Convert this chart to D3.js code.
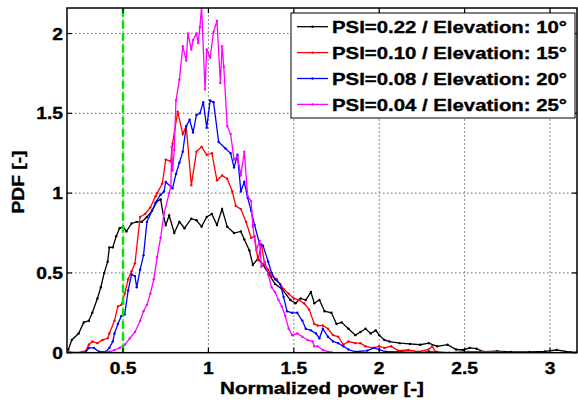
<!DOCTYPE html>
<html>
<head>
<meta charset="utf-8">
<script src="https://cdn.jsdelivr.net/npm/d3@7"></script>
<style>
    body { margin: 0; background: #fff; }
    text { font-family: "Liberation Sans", Arial, sans-serif; font-weight: bold; fill: #000; stroke: #000; stroke-width: 0.35px; }
</style>
</head>
<body>
<div id="chart"></div>
<script>
// PDF of normalized power, one series per elevation
const psi22 = [[0.18,0.02],[0.20,0.08],[0.24,0.12],[0.27,0.19],[0.30,0.20],[0.32,0.25],[0.35,0.34],[0.37,0.41],[0.39,0.50],[0.41,0.57],[0.42,0.66],[0.44,0.66],[0.46,0.73],[0.48,0.78],[0.50,0.79],[0.52,0.76],[0.55,0.81],[0.58,0.82],[0.61,0.82],[0.64,0.85],[0.67,0.89],[0.70,0.95],[0.72,0.96],[0.74,0.84],[0.75,0.80],[0.77,0.86],[0.80,0.75],[0.83,0.82],[0.86,0.78],[0.90,0.84],[0.93,0.83],[0.96,0.79],[0.99,0.85],[1.02,0.87],[1.05,0.80],[1.08,0.90],[1.11,0.79],[1.15,0.75],[1.19,0.76],[1.21,0.71],[1.24,0.64],[1.26,0.55],[1.29,0.59],[1.32,0.55],[1.35,0.50],[1.39,0.43],[1.43,0.40],[1.48,0.33],[1.51,0.31],[1.54,0.34],[1.57,0.33],[1.60,0.38],[1.62,0.31],[1.65,0.33],[1.68,0.26],[1.72,0.25],[1.75,0.18],[1.78,0.19],[1.82,0.15],[1.86,0.11],[1.89,0.13],[1.92,0.15],[1.95,0.12],[1.98,0.14],[2.00,0.11],[2.03,0.08],[2.06,0.07],[2.12,0.06],[2.18,0.055],[2.24,0.05],[2.29,0.06],[2.34,0.04],[2.40,0.05],[2.45,0.02],[2.49,0.017],[2.53,0.03],[2.57,0.025],[2.61,0.006],[2.69,0.01],[2.77,0.005],[2.88,0.005],[2.97,0.008],[3.04,0.017],[3.12,0.003],[3.16,0.003]];

const psi10 = [[0.18,0.006],[0.22,0.0],[0.26,0.005],[0.28,0.01],[0.30,0.05],[0.32,0.07],[0.35,0.06],[0.38,0.08],[0.41,0.09],[0.42,0.12],[0.45,0.20],[0.47,0.29],[0.49,0.30],[0.51,0.37],[0.53,0.46],[0.55,0.51],[0.57,0.56],[0.60,0.85],[0.63,0.87],[0.66,0.91],[0.69,0.98],[0.70,1.00],[0.73,1.06],[0.75,1.21],[0.78,1.20],[0.79,1.31],[0.82,1.51],[0.85,1.37],[0.87,1.42],[0.90,1.05],[0.93,1.26],[0.96,1.29],[0.99,1.24],[1.02,1.25],[1.05,1.08],[1.08,1.11],[1.11,1.09],[1.14,1.01],[1.16,0.92],[1.19,0.90],[1.22,0.82],[1.25,0.72],[1.27,0.73],[1.29,0.58],[1.31,0.68],[1.33,0.55],[1.35,0.52],[1.37,0.48],[1.40,0.46],[1.42,0.43],[1.44,0.40],[1.47,0.37],[1.50,0.34],[1.53,0.33],[1.56,0.31],[1.59,0.27],[1.62,0.18],[1.64,0.17],[1.67,0.17],[1.70,0.15],[1.73,0.11],[1.76,0.10],[1.79,0.05],[1.82,0.07],[1.86,0.06],[1.89,0.06],[1.92,0.04],[1.96,0.03],[2.00,0.04],[2.03,0.03],[2.07,0.04],[2.11,0.013],[2.17,0.017],[2.23,0.006],[2.29,0.02],[2.31,0.04],[2.33,0.006],[2.41,0.0],[2.52,0.006],[2.60,0.006],[2.68,0.006],[2.72,0.003]];

const psi08 = [[0.28,0.0],[0.30,0.03],[0.33,0.03],[0.36,0.006],[0.40,0.006],[0.42,0.03],[0.44,0.07],[0.45,0.12],[0.47,0.18],[0.49,0.23],[0.51,0.24],[0.53,0.39],[0.55,0.49],[0.57,0.48],[0.58,0.41],[0.60,0.52],[0.62,0.61],[0.64,0.82],[0.67,0.89],[0.69,0.94],[0.72,0.99],[0.74,1.01],[0.75,1.07],[0.79,1.03],[0.81,1.12],[0.83,1.19],[0.85,1.26],[0.87,1.42],[0.89,1.46],[0.91,1.38],[0.93,1.49],[0.95,1.50],[0.97,1.57],[0.99,1.41],[1.01,1.58],[1.03,1.57],[1.06,1.32],[1.10,1.28],[1.13,1.25],[1.15,1.16],[1.17,1.24],[1.19,1.01],[1.21,1.07],[1.23,0.97],[1.25,0.89],[1.27,0.80],[1.30,0.68],[1.32,0.67],[1.35,0.57],[1.37,0.50],[1.39,0.46],[1.42,0.43],[1.44,0.35],[1.46,0.26],[1.49,0.25],[1.52,0.25],[1.55,0.20],[1.57,0.15],[1.60,0.14],[1.63,0.12],[1.65,0.09],[1.67,0.15],[1.70,0.10],[1.73,0.07],[1.76,0.06],[1.79,0.04],[1.82,0.02],[1.86,0.006],[1.93,0.013],[1.97,0.03],[2.00,0.02],[2.04,0.006],[2.13,0.005],[2.24,0.0],[2.29,0.006],[2.34,0.003]];

const psi04 = [[0.38,0.0],[0.42,0.006],[0.45,0.017],[0.48,0.03],[0.51,0.05],[0.54,0.09],[0.57,0.13],[0.60,0.20],[0.62,0.26],[0.64,0.30],[0.66,0.37],[0.68,0.46],[0.70,0.60],[0.72,0.72],[0.74,0.87],[0.77,1.00],[0.78,1.04],[0.785,1.29],[0.79,1.14],[0.80,1.27],[0.81,1.58],[0.83,1.71],[0.85,1.92],[0.87,1.83],[0.88,2.00],[0.90,1.90],[0.91,1.96],[0.93,2.00],[0.94,1.94],[0.95,2.04],[0.96,2.17],[0.98,1.65],[0.99,1.90],[1.01,1.85],[1.03,2.01],[1.05,2.08],[1.07,1.69],[1.08,1.92],[1.09,1.79],[1.11,1.42],[1.13,1.37],[1.15,1.21],[1.17,1.23],[1.19,1.11],[1.21,1.26],[1.23,0.98],[1.25,0.95],[1.26,0.79],[1.28,0.64],[1.30,0.70],[1.31,0.54],[1.33,0.57],[1.35,0.49],[1.37,0.41],[1.39,0.38],[1.41,0.33],[1.43,0.29],[1.45,0.23],[1.47,0.15],[1.49,0.11],[1.52,0.12],[1.55,0.10],[1.58,0.08],[1.61,0.07],[1.62,0.04],[1.64,0.04],[1.67,0.017],[1.70,0.006],[1.72,0.003]];

const seriesNames = ["PSI=0.22 / Elevation: 10°", "PSI=0.10 / Elevation: 15°", "PSI=0.08 / Elevation: 20°", "PSI=0.04 / Elevation: 25°"];
const seriesColors = ["#000000", "#ff0000", "#0000ff", "#ff00ff"];
const xTicks = [0.5, 1, 1.5, 2, 2.5, 3];
const yTicks = [0, 0.5, 1, 1.5, 2];
const threshold = 0.5;

let width = 578, height = 403;
let margin = {top: 8, right: 1, bottom: 50.3, left: 67};

var svg = d3.select("#chart")
    .append("svg")
    .attr("width", width)
    .attr("height", height);

var x = d3.scaleLinear().domain([0.172, 3.158]).range([margin.left, width - margin.right]);
var y = d3.scaleLinear().domain([0, 2.16]).range([height - margin.bottom, margin.top]);

let x0 = x.range()[0], x1 = x.range()[1], y0 = y.range()[0], y1 = y.range()[1];

// the picture is a bit wider than tall, stretch glyphs to match
function stretch(sel, k) {
    sel.each(function () {
        let w = this.getComputedTextLength();
        d3.select(this).attr("textLength", w * k).attr("lengthAdjust", "spacingAndGlyphs");
    });
}

svg.append("clipPath").attr("id", "plotclip")
    .append("rect")
    .attr("x", x0).attr("y", y1)
    .attr("width", x1 - x0).attr("height", y0 - y1);

// grid
var grid = svg.append("g").attr("class", "grid")
    .attr("stroke", "#666").attr("stroke-width", 1).attr("stroke-dasharray", "1.5,2.5");
grid.selectAll(".gx").data(xTicks).enter().append("line")
    .attr("x1", d => x(d)).attr("x2", d => x(d))
    .attr("y1", y0).attr("y2", y1);
grid.selectAll(".gy").data(yTicks.filter(d => d > 0)).enter().append("line")
    .attr("x1", x0).attr("x2", x1)
    .attr("y1", d => y(d)).attr("y2", d => y(d));

// curves
var line = d3.line().x(d => x(d[0])).y(d => y(d[1]));
var plot = svg.append("g").attr("clip-path", "url(#plotclip)");
[psi22, psi10, psi08, psi04].forEach(function (data, i) {
    plot.append("path")
        .datum(data)
        .attr("d", line)
        .attr("fill", "none")
        .attr("stroke", seriesColors[i])
        .attr("stroke-width", 1.3);
    plot.append("g").selectAll("circle")
        .data(data).enter()
        .append("circle")
        .attr("cx", d => x(d[0]))
        .attr("cy", d => y(d[1]))
        .attr("r", 1.2)
        .attr("fill", seriesColors[i]);
});

// green threshold line
svg.append("line")
    .attr("x1", x(threshold)).attr("x2", x(threshold))
    .attr("y1", y0).attr("y2", y1)
    .attr("stroke", "#00e600")
    .attr("stroke-width", 2.5)
    .attr("stroke-dasharray", "8,4");

// frame and inward ticks
svg.append("rect")
    .attr("x", x0).attr("y", y1)
    .attr("width", x1 - x0).attr("height", y0 - y1)
    .attr("fill", "none").attr("stroke", "#000").attr("stroke-width", 1.5);

var ticks = svg.append("g").attr("stroke", "#000").attr("stroke-width", 1.2);
xTicks.forEach(function (t) {
    ticks.append("line").attr("x1", x(t)).attr("x2", x(t)).attr("y1", y0).attr("y2", y0 - 5);
    ticks.append("line").attr("x1", x(t)).attr("x2", x(t)).attr("y1", y1).attr("y2", y1 + 5);
});
yTicks.forEach(function (t) {
    ticks.append("line").attr("x1", x0).attr("x2", x0 + 5).attr("y1", y(t)).attr("y2", y(t));
    ticks.append("line").attr("x1", x1).attr("x2", x1 - 5).attr("y1", y(t)).attr("y2", y(t));
});

// tick labels
var fmt = d3.format("");
svg.append("g").selectAll("text")
    .data(xTicks).enter().append("text")
    .attr("x", d => x(d))
    .attr("y", y0 + 21)
    .attr("text-anchor", "middle")
    .style("font-size", "16px")
    .text(d => fmt(d))
    .call(stretch, 1.2);

svg.append("g").selectAll("text")
    .data(yTicks).enter().append("text")
    .attr("x", x0 - 4)
    .attr("y", d => y(d) + 6)
    .attr("text-anchor", "end")
    .style("font-size", "16px")
    .text(d => fmt(d))
    .call(stretch, 1.2);

// axis titles
svg.append("text")
    .attr("x", (x0 + x1) / 2)
    .attr("y", 394)
    .attr("text-anchor", "middle")
    .style("font-size", "16.5px")
    .attr("textLength", 204)
    .attr("lengthAdjust", "spacingAndGlyphs")
    .text("Normalized power [-]");

svg.append("text")
    .attr("transform", "translate(24," + 182 + ") rotate(-90)")
    .attr("text-anchor", "middle")
    .style("font-size", "16px")
    .attr("textLength", 63)
    .attr("lengthAdjust", "spacingAndGlyphs")
    .text("PDF [-]");

// legend
var legend = svg.append("g").attr("class", "legend");
legend.append("rect")
    .attr("x", 291).attr("y", 13)
    .attr("width", 284).attr("height", 105)
    .attr("fill", "#fff").attr("stroke", "#000").attr("stroke-width", 1);

seriesNames.forEach(function (name, i) {
    let ly = 26.7 + i * 25.9;
    legend.append("line")
        .attr("x1", 297).attr("x2", 328)
        .attr("y1", ly).attr("y2", ly)
        .attr("stroke", seriesColors[i]).attr("stroke-width", 1.3);
    legend.append("circle")
        .attr("cx", 312.5).attr("cy", ly).attr("r", 1.2)
        .attr("fill", seriesColors[i]);
    legend.append("text")
        .attr("x", 332).attr("y", ly + 6.5)
        .style("font-size", "17px")
        .attr("textLength", 235)
        .attr("lengthAdjust", "spacingAndGlyphs")
        .text(name);
});
</script>
</body>
</html>
